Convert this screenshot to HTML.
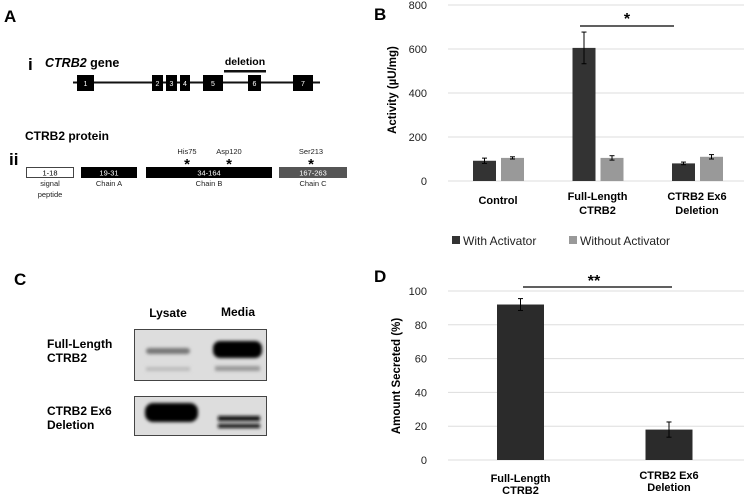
<!DOCTYPE html>
<html><head><meta charset="utf-8"><style>
body{margin:0;background:#fff;}
svg{display:block;font-family:"Liberation Sans",Arial,sans-serif;}
</style></head><body>
<svg width="744" height="497" viewBox="0 0 744 497">
<defs>
<filter id="blur1" x="-20%" y="-50%" width="140%" height="200%"><feGaussianBlur stdDeviation="1.6"/></filter>
</defs>
<!-- Panel A -->
<g>
<text x="4" y="22" font-size="17" font-weight="bold">A</text>
<text x="28" y="70" font-size="17" font-weight="bold">i</text>
<text x="45" y="67" font-size="12.5" font-weight="bold"><tspan font-style="italic">CTRB2</tspan> gene</text>
<text x="245" y="65" font-size="10.5" font-weight="bold" text-anchor="middle">deletion</text>
<rect x="224" y="70" width="42" height="2.5" fill="#111"/>
<rect x="73" y="81.5" width="247" height="2" fill="#111"/>
<g fill="#000">
<rect x="77" y="75" width="17" height="16"/><rect x="152" y="75" width="11" height="16"/><rect x="166" y="75" width="11" height="16"/><rect x="180" y="75" width="10" height="16"/><rect x="203" y="75" width="20" height="16"/><rect x="248" y="75" width="13" height="16"/><rect x="293" y="75" width="20" height="16"/>
</g>
<g fill="#fff" font-size="7" text-anchor="middle">
<text x="85.5" y="86">1</text><text x="157.5" y="86">2</text><text x="171.5" y="86">3</text><text x="185" y="86">4</text><text x="213" y="86">5</text><text x="254.5" y="86">6</text><text x="303" y="86">7</text>
</g>
<text x="25" y="140" font-size="12" font-weight="bold">CTRB2 protein</text>
<text x="9" y="165" font-size="17" font-weight="bold">ii</text>
<rect x="26.5" y="167.5" width="47" height="10" fill="#fff" stroke="#444"/>
<rect x="81" y="167" width="56" height="11" fill="#000"/>
<rect x="146" y="167" width="126" height="11" fill="#000"/>
<rect x="279" y="167" width="68" height="11" fill="#555"/>
<g font-size="7.5" text-anchor="middle">
<text x="50" y="175.5" fill="#000">1-18</text><text x="109" y="175.5" fill="#fff">19-31</text><text x="209" y="175.5" fill="#fff">34-164</text><text x="313" y="175.5" fill="#fff">167-263</text>
<text x="50" y="186" fill="#222">signal</text><text x="50" y="197" fill="#222">peptide</text><text x="109" y="186" fill="#222">Chain A</text><text x="209" y="186" fill="#222">Chain B</text><text x="313" y="186" fill="#222">Chain C</text>
<text x="187" y="154" fill="#222">His75</text><text x="229" y="154" fill="#222">Asp120</text><text x="311" y="154" fill="#222">Ser213</text>
</g>
<g font-size="15" font-weight="bold" text-anchor="middle">
<text x="187" y="169">*</text><text x="229" y="169">*</text><text x="311" y="169">*</text>
</g>
</g>

<!-- Panel B -->
<g id="panelB">
<text x="374" y="20" font-size="17" font-weight="bold">B</text>
<text transform="translate(396,90) rotate(-90)" font-size="11.5" font-weight="bold" text-anchor="middle">Activity (µU/mg)</text>
</g>

<!-- Panel C -->
<g>
<text x="14" y="285" font-size="17" font-weight="bold">C</text>
<text x="168" y="317" font-size="12" font-weight="bold" text-anchor="middle">Lysate</text>
<text x="238" y="316" font-size="12" font-weight="bold" text-anchor="middle">Media</text>
<text x="47" y="348" font-size="12" font-weight="bold"><tspan x="47">Full-Length</tspan><tspan x="47" dy="14">CTRB2</tspan></text>
<text x="47" y="415" font-size="12" font-weight="bold"><tspan x="47">CTRB2 Ex6</tspan><tspan x="47" dy="14">Deletion</tspan></text>
<rect x="134.5" y="329.5" width="132" height="51" fill="#ddd" stroke="#444"/>
<rect x="134.5" y="396.5" width="132" height="39" fill="#ddd" stroke="#444"/>
<g filter="url(#blur1)">
<rect x="146" y="348" width="44" height="6" rx="3" fill="#777"/>
<rect x="146" y="367" width="44" height="4" fill="#bbb"/>
<rect x="213" y="341" width="49" height="17" rx="7" fill="#000"/>
<rect x="215" y="366" width="45" height="5" fill="#999"/>
<rect x="145" y="403" width="53" height="19" rx="8" fill="#000"/>
<rect x="218" y="416" width="42" height="5" fill="#111"/>
<rect x="218" y="424" width="42" height="4" fill="#111"/>
</g>
</g>

<!-- Panel D -->
<g id="panelD">
<text x="374" y="282" font-size="17" font-weight="bold">D</text>
<text transform="translate(400,376) rotate(-90)" font-size="11.5" font-weight="bold" text-anchor="middle">Amount Secreted (%)</text>
</g>
</svg>
<script>
const NS="http://www.w3.org/2000/svg";
const bCats=[["Control"],["Full-Length","CTRB2"],["CTRB2 Ex6","Deletion"]];
const bWith=[92,605,80];
const bWithErr=[12,72,6];
const bWithout=[105,105,110];
const bWithoutErr=[5,10,10];
const bTicks=[0,200,400,600,800];
const dCats=[["Full-Length","CTRB2"],["CTRB2 Ex6","Deletion"]];
const dVals=[92,18];
const dErr=[3.5,4.5];
const dTicks=[0,20,40,60,80,100];

function mk(tag,attrs,parent){const e=document.createElementNS(NS,tag);for(const k in attrs)e.setAttribute(k,attrs[k]);parent.appendChild(e);return e;}
function err(g,x,y1,y2){mk('line',{x1:x,x2:x,y1:y1,y2:y2,stroke:'#000','stroke-width':1},g);mk('line',{x1:x-2.5,x2:x+2.5,y1:y1,y2:y1,stroke:'#000','stroke-width':1},g);mk('line',{x1:x-2.5,x2:x+2.5,y1:y2,y2:y2,stroke:'#000','stroke-width':1},g);}

// Panel B
(function(){
const g=document.getElementById('panelB');
const y=v=>181-v*(176/800);
const cx=i=>498+i*99.5;
bTicks.forEach(t=>{
 const l=mk('line',{x1:448,x2:744,y1:y(t),y2:y(t),stroke:'#ddd','stroke-width':1},g);
 
 
 const tx=mk('text',{x:427,y:y(t)+4,'font-size':11,'text-anchor':'end',fill:'#222'},g);tx.textContent=t;
 
 
});
bCats.forEach((c,i)=>{
 const r1=mk('rect',{x:cx(i)-25,y:y(bWith[i]),width:23,height:y(0)-y(bWith[i]),fill:'#333'},g);
 
 
 const r2=mk('rect',{x:cx(i)+3,y:y(bWithout[i]),width:23,height:y(0)-y(bWithout[i]),fill:'#999'},g);
 
 
 err(g,cx(i)-13.5,y(bWith[i]+bWithErr[i]),y(bWith[i]-bWithErr[i]));
 err(g,cx(i)+14.5,y(bWithout[i]+bWithoutErr[i]),y(bWithout[i]-bWithoutErr[i]));
 c.forEach((s,j)=>{const t=mk('text',{x:cx(i),y:204+j*14-(c.length==1?0:4),'font-size':11,'font-weight':'bold','text-anchor':'middle'},g);t.textContent=s;
 
 });
});
const sl=mk('line',{x1:580,x2:674,y1:26,y2:26,stroke:'#000','stroke-width':1.2},g);


const st=mk('text',{x:627,y:24,'font-size':16,'font-weight':'bold','text-anchor':'middle'},g);st.textContent='*';


const l1=mk('rect',{x:452,y:236,width:8,height:8,fill:'#333'},g);


const t1=mk('text',{x:463,y:245,'font-size':12,fill:'#222'},g);t1.textContent='With Activator';


const l2=mk('rect',{x:569,y:236,width:8,height:8,fill:'#999'},g);


const t2=mk('text',{x:580,y:245,'font-size':12,fill:'#222'},g);t2.textContent='Without Activator';


})();

// Panel D
(function(){
const g=document.getElementById('panelD');
const y=v=>460-v*1.69;
const cx=i=>520.5+i*148.5;
dTicks.forEach(t=>{
 const l=mk('line',{x1:448,x2:744,y1:y(t),y2:y(t),stroke:'#ddd','stroke-width':1},g);
 
 
 const tx=mk('text',{x:427,y:y(t)+4,'font-size':11,'text-anchor':'end',fill:'#222'},g);tx.textContent=t;
 
 
});
dCats.forEach((c,i)=>{
 const r=mk('rect',{x:cx(i)-23.5,y:y(dVals[i]),width:47,height:y(0)-y(dVals[i]),fill:'#2b2b2b'},g);
 
 
 err(g,cx(i),y(dVals[i]+dErr[i]),y(dVals[i]-dErr[i]));
 c.forEach((s,j)=>{const t=mk('text',{x:cx(i),y:(i==0?482:479)+j*12,'font-size':11,'font-weight':'bold','text-anchor':'middle'},g);t.textContent=s;
 
 });
});
const sl=mk('line',{x1:523,x2:672,y1:287,y2:287,stroke:'#000','stroke-width':1.2},g);


const st=mk('text',{x:594,y:286,'font-size':16,'font-weight':'bold','text-anchor':'middle'},g);st.textContent='**';


})();
</script>
</body></html>
